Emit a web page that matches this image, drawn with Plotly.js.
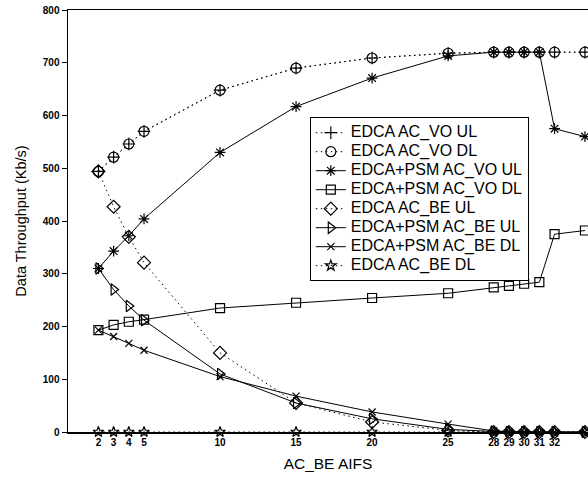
<!DOCTYPE html>
<html>
<head>
<meta charset="utf-8">
<script src="https://cdn.plot.ly/plotly-3.0.1.min.js"></script>
<style>
  html, body { margin: 0; padding: 0; background: #fff; }
  #chart { width: 588px; height: 478px; }
  /* legend entries: larger lettering while keeping compact row spacing */
  .legendtext { font-size: 16px !important; }
</style>
</head>
<body>
<div id="chart"></div>
<script>
// AC_BE AIFS values on the x axis
const aifs = [2, 3, 4, 5, 10, 15, 20, 25, 28, 29, 30, 31, 32, 34];
const aifsLabels = ['2', '3', '4', '5', '10', '15', '20', '25', '28', '29', '30', '31', '32', '34'];

// Data throughput (Kb/s) per scheme
const edcaVoUl    = [494, 521, 546, 570, 648, 690, 709, 718, 720, 720, 720, 720, 720, 720];
const edcaVoDl    = [494, 521, 546, 570, 648, 690, 709, 718, 720, 720, 720, 720, 720, 720];
const psmVoUl     = [310, 343, 372, 404, 530, 617, 671, 713, 720, 720, 720, 720, 575, 560];
const psmVoDl     = [193, 203, 209, 213, 235, 245, 254, 263, 274, 277, 281, 284, 375, 382];
const edcaBeUl    = [494, 427, 370, 321, 150, 55, 19, 3, 0, 0, 0, 0, 0, 0];
const psmBeUl     = [310, 270, 239, 212, 110, 55, 25, 5, 1, 0, 0, 0, 0, 0];
const psmBeDl     = [193, 181, 168, 155, 105, 68, 38, 15, 2, 1, 0, 0, 0, 0];
const edcaBeDl    = [0, 0, 0, 0, 0, 0, 0, 0, 0, 0, 0, 0, 0, 0];

const seriesNames = [
  'EDCA AC_VO UL', 'EDCA AC_VO DL', 'EDCA+PSM AC_VO UL', 'EDCA+PSM AC_VO DL',
  'EDCA AC_BE UL', 'EDCA+PSM AC_BE UL', 'EDCA+PSM AC_BE DL', 'EDCA AC_BE DL'
];

const DOTTED = '1.5px,3.5px';

function trace(name, y, symbol, dash, size) {
  return {
    x: aifs, y: y, name: name, type: 'scatter', mode: 'lines+markers',
    cliponaxis: false,
    line: { color: '#000', width: 1, dash: dash },
    marker: { symbol: symbol, size: size, color: '#000', line: { color: '#000', width: 1.2 } }
  };
}

const data = [
  trace(seriesNames[0], edcaVoUl, 'cross-thin-open', DOTTED, 9),
  trace(seriesNames[1], edcaVoDl, 'circle-open', DOTTED, 10),
  trace(seriesNames[2], psmVoUl, 'asterisk-open', 'solid', 9),
  trace(seriesNames[3], psmVoDl, 'square-open', 'solid', 9),
  trace(seriesNames[4], edcaBeUl, 'diamond-open', DOTTED, 10),
  trace(seriesNames[5], psmBeUl, 'triangle-right-open', 'solid', 10),
  trace(seriesNames[6], psmBeDl, 'x-thin-open', 'solid', 7),
  trace(seriesNames[7], edcaBeDl, 'star-open', DOTTED, 8)
];

const layout = {
  width: 588, height: 478,
  margin: { l: 68, r: 0, t: 10, b: 46 },
  paper_bgcolor: '#fff', plot_bgcolor: '#fff',
  font: { family: 'Liberation Sans, Arial, sans-serif', color: '#000' },
  showlegend: true,
  xaxis: {
    range: [0, 34.2], showgrid: false, zeroline: false,
    showline: true, linecolor: '#000', linewidth: 1.5, mirror: true,
    tickmode: 'array', tickvals: aifs, ticktext: aifsLabels,
    ticks: '', tickfont: { size: 10, weight: 'bold' },
    title: { text: 'AC_BE AIFS', font: { size: 15.5 }, standoff: 11 }
  },
  yaxis: {
    range: [0, 800], showgrid: false, zeroline: false,
    showline: true, linecolor: '#000', linewidth: 1.5,
    tickmode: 'linear', tick0: 0, dtick: 100,
    ticks: 'outside', ticklen: 5, tickcolor: '#000',
    tickfont: { size: 10, weight: 'bold' },
    title: { text: 'Data Throughput (Kb/s)', font: { size: 14.5 }, standoff: 12 }
  },
  legend: {
    x: 0.465, y: 0.746, xanchor: 'left', yanchor: 'top',
    bgcolor: '#fff', bordercolor: '#000', borderwidth: 1,
    font: { size: 12 }, tracegroupgap: 0
  }
};

Plotly.newPlot('chart', data, layout, { staticPlot: true });
</script>
</body>
</html>
